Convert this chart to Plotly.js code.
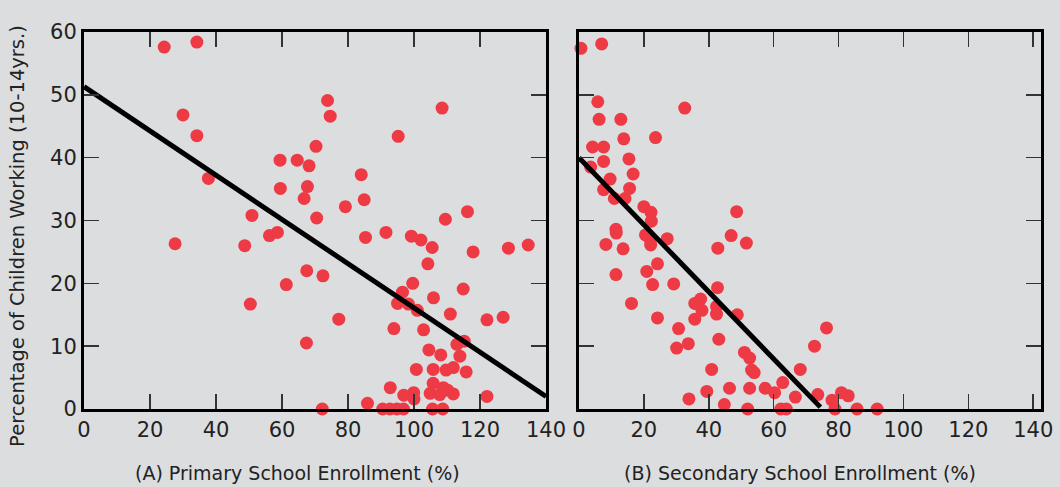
<!DOCTYPE html>
<html>
<head>
<meta charset="utf-8">
<script src="https://cdn.plot.ly/plotly-3.0.1.min.js"></script>
<style>
  html, body { margin: 0; padding: 0; background: #dcdddf; }
  #chart { width: 1060px; height: 487px; }
</style>
</head>
<body>
<div id="chart"></div>
<script>
// Panel A: primary school enrollment (%) vs. percentage of children working
const primaryX = [24.3, 34.2, 30, 34.2, 37.7, 27.6, 48.7, 50.9, 50.4, 56.2, 58.6, 59.4, 59.5, 61.3, 64.6, 66.7, 67.7, 68.2, 70.3, 70.5,
  67.5, 72.4, 67.4, 72.2, 73.8, 74.6, 77.2, 79.2, 84, 84.9, 85.3, 85.9, 90.5, 91.5, 92.7, 92.8, 93.9, 94.8, 95.2, 95,
  96.5, 96.8, 96.9, 98.3, 99.2, 99.6, 99.9, 100, 100.7, 101, 102.1, 102.9, 104.2, 104.5, 104.9, 105.5, 105.6, 105.8, 105.8, 105.9,
  107.8, 108.1, 108.5, 108.7, 108.9, 109.5, 109.7, 110.2, 111, 111.9, 111.9, 113, 113.9, 114.9, 115.2, 115.8, 116.2, 117.9, 122.1, 122.1,
  127, 128.6, 134.6];
const primaryY = [57.6, 58.4, 46.8, 43.5, 36.7, 26.3, 26, 30.8, 16.7, 27.6, 28.1, 39.6, 35.1, 19.8, 39.6, 33.5, 35.4, 38.7, 41.8, 30.4,
  22, 21.2, 10.5, 0, 49.1, 46.6, 14.3, 32.2, 37.3, 33.3, 27.3, 0.9, 0, 28.1, 0, 3.4, 12.8, 0, 43.4, 16.8,
  18.6, 0, 2.2, 16.7, 27.5, 20, 2.6, 1.6, 6.3, 15.7, 26.9, 12.6, 23.1, 9.4, 2.5, 25.7, 0, 6.3, 4.1, 17.7,
  2.3, 8.6, 47.9, 0, 3.4, 30.2, 6.2, 3, 15.1, 6.6, 2.4, 10.3, 8.4, 19.1, 10.8, 5.9, 31.4, 25, 14.2, 2,
  14.6, 25.6, 26.1];

// Panel B: secondary school enrollment (%) vs. percentage of children working
const secondaryX = [0.6, 7, 5.8, 6.2, 12.9, 32.6, 13.8, 23.6, 4.2, 7.6, 7.6, 15.4, 3.6, 9.6, 16.7, 7.6, 15.6, 10.9, 14.2, 20,
  22.2, 22.3, 48.6, 11.4, 11.5, 8.3, 13.6, 20.5, 22, 22.1, 27.2, 46.9, 51.6, 42.8, 11.4, 20.9, 24.2, 22.7, 29.2, 16.2,
  24.2, 42.7, 35.7, 37.5, 37.9, 42.4, 42.4, 48.8, 35.7, 30.7, 30.1, 33.7, 43.1, 51, 52.6, 53.2, 54, 40.9, 39.4, 33.9,
  44.8, 46.4, 52.6, 52, 57.4, 60.3, 62.8, 62.2, 63.9, 66.7, 68.2, 72.6, 76.3, 73.6, 78, 78.9, 80.9, 83, 85.7, 91.9];
const secondaryY = [57.4, 58.1, 48.9, 46.1, 46.1, 47.9, 43, 43.2, 41.7, 41.7, 39.4, 39.8, 38.5, 36.6, 37.4, 34.9, 35.1, 33.5, 33.5, 32.2,
  31.3, 29.9, 31.4, 28.6, 28, 26.2, 25.5, 27.7, 26.9, 26.1, 27.1, 27.6, 26.4, 25.6, 21.4, 21.9, 23.1, 19.8, 19.9, 16.8,
  14.5, 19.3, 16.8, 17.5, 15.7, 16.3, 15.1, 15, 14.3, 12.8, 9.7, 10.4, 11.1, 9, 8.1, 6.2, 5.8, 6.3, 2.8, 1.6,
  0.7, 3.3, 3.3, 0, 3.3, 2.6, 4.2, 0, 0, 1.9, 6.3, 10, 12.9, 2.3, 1.4, 0, 2.6, 2.1, 0, 0];

// Fitted lines (end points)
const trendAX = [0, 140];
const trendAY = [51.3, 2];
const trendBX = [0, 74.4];
const trendBY = [40, 0.3];

// Axis ticks and titles
const xTicks = [0, 20, 40, 60, 80, 100, 120, 140];
const yTicks = [0, 10, 20, 30, 40, 50, 60];
const titleA = '(A) Primary School Enrollment (%)';
const titleB = '(B) Secondary School Enrollment (%)';
const titleY = 'Percentage of Children Working (10-14yrs.)';

const FONT = 'DejaVu Sans, Liberation Sans, sans-serif';
const dotColor = '#ee3a44';

const dotStyle = { size: 13, color: dotColor, line: { width: 0 } };

const traces = [
  { type: 'scatter', mode: 'markers', x: primaryX, y: primaryY, xaxis: 'x', yaxis: 'y',
    marker: dotStyle, cliponaxis: false, hoverinfo: 'x+y' },
  { type: 'scatter', mode: 'lines', x: trendAX, y: trendAY, xaxis: 'x', yaxis: 'y',
    line: { color: '#000', width: 5 }, cliponaxis: false },
  { type: 'scatter', mode: 'markers', x: secondaryX, y: secondaryY, xaxis: 'x2', yaxis: 'y2',
    marker: dotStyle, cliponaxis: false, hoverinfo: 'x+y' },
  { type: 'scatter', mode: 'lines', x: trendBX, y: trendBY, xaxis: 'x2', yaxis: 'y2',
    line: { color: '#000', width: 5 }, cliponaxis: false }
];

const axisCommon = {
  showline: true, linewidth: 3, linecolor: '#000', mirror: 'ticks',
  ticks: 'inside', ticklen: 15, tickwidth: 1.5, tickcolor: '#333',
  showgrid: false, zeroline: false,
  tickfont: { family: FONT, size: 21, color: '#222' },
  fixedrange: true
};

const layout = {
  width: 1060, height: 487,
  margin: { l: 84, r: 19, t: 32, b: 78 },
  paper_bgcolor: '#dcdddf', plot_bgcolor: '#dcdddf',
  showlegend: false,
  font: { family: FONT, color: '#222' },
  xaxis: Object.assign({}, axisCommon, { domain: [0, 0.4828], range: [0, 140], tickvals: xTicks, anchor: 'y' }),
  yaxis: Object.assign({}, axisCommon, { domain: [0, 1], range: [0, 60], tickvals: yTicks, anchor: 'x' }),
  xaxis2: Object.assign({}, axisCommon, { domain: [0.5172, 1], range: [0, 142.4], tickvals: xTicks, anchor: 'y2' }),
  yaxis2: Object.assign({}, axisCommon, { domain: [0, 1], range: [0, 60], tickvals: yTicks, anchor: 'x2', showticklabels: false }),
  annotations: [
    { text: titleA, xref: 'x', yref: 'paper', x: 64.8, y: -0.17, xanchor: 'center', yanchor: 'middle',
      showarrow: false, font: { family: FONT, size: 19, color: '#222' } },
    { text: titleB, xref: 'x2', yref: 'paper', x: 68, y: -0.17, xanchor: 'center', yanchor: 'middle',
      showarrow: false, font: { family: FONT, size: 19, color: '#222' } },
    { text: titleY, xref: 'paper', yref: 'paper', x: -0.069, y: 0.459, xanchor: 'center', yanchor: 'middle',
      textangle: -90, showarrow: false, font: { family: FONT, size: 19.5, color: '#222' } }
  ]
};

Plotly.newPlot('chart', traces, layout, { staticPlot: true, displayModeBar: false });
</script>
</body>
</html>
